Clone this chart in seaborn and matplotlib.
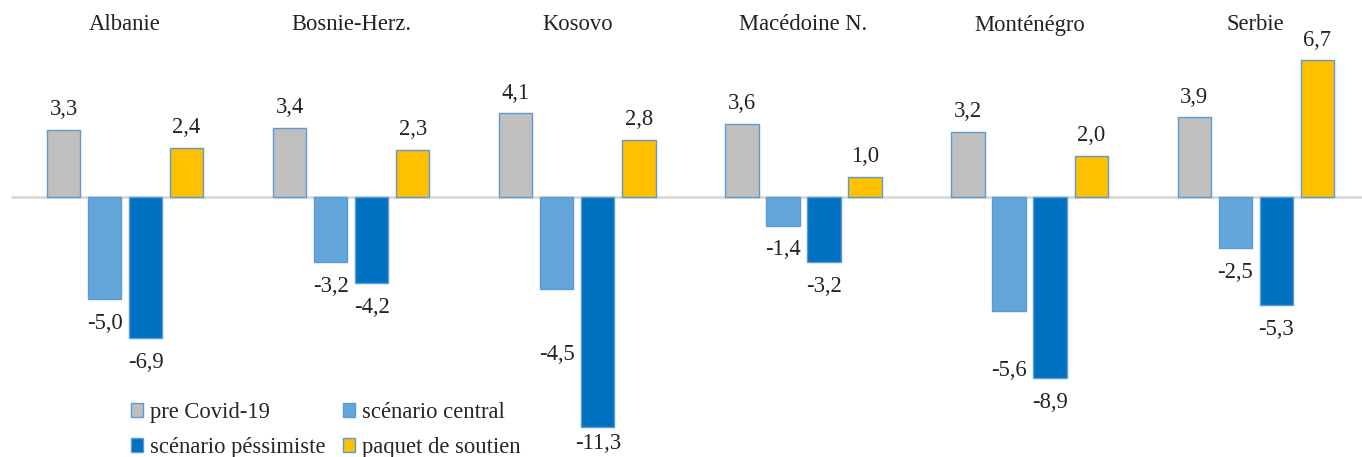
import matplotlib
matplotlib.use("Agg")
import matplotlib.pyplot as plt
import seaborn as sns
import pandas as pd
from matplotlib.patches import Patch

countries = ["Albanie", "Bosnie-Herz.", "Kosovo", "Macédoine N.", "Monténégro", "Serbie"]
series = ["pre Covid-19", "scénario central", "scénario péssimiste", "paquet de soutien"]
pre_covid = [3.3, 3.4, 4.1, 3.6, 3.2, 3.9]
central = [-5.0, -3.2, -4.5, -1.4, -5.6, -2.5]
pessimiste = [-6.9, -4.2, -11.3, -3.2, -8.9, -5.3]
soutien = [2.4, 2.3, 2.8, 1.0, 2.0, 6.7]

colors = ["#BFBFBF", "#64A6DA", "#0070C0", "#FFC000"]
edge = "#5B9BD5"

rows = []
for s, vals in zip(series, [pre_covid, central, pessimiste, soutien]):
    for c, v in zip(countries, vals):
        rows.append({"pays": c, "serie": s, "valeur": v})
df = pd.DataFrame(rows)

sns.set_style("white")
plt.rcParams["font.family"] = ["Liberation Serif", "DejaVu Serif"]

W, H = 1362, 457
fig = plt.figure(figsize=(W / 100, H / 100), dpi=100)
ax = fig.add_axes([0, 0, 1, 1])

sns.barplot(data=df, x="pays", y="valeur", hue="serie", hue_order=series,
            order=countries, palette=colors, width=0.726, gap=0.19,
            edgecolor=edge, linewidth=1, ax=ax, legend=False, errorbar=None,
            saturation=1)

ax.set_xlim(-0.553, 5.47)
ax.set_ylim(-12.75, 9.66)
ax.axhline(0, xmin=12 / W, color="#D9D9D9", lw=2, zorder=0)

fs = 16.3
extra = {(1, 2): 30, (1, 4): 25, (2, 2): -6}
all_vals = [pre_covid, central, pessimiste, soutien]
for i, cont in enumerate(ax.containers):
    vals = all_vals[i]
    labels = [f"{v:.1f}".replace(".", ",") for v in vals]
    anns = ax.bar_label(cont, labels=labels, padding=7, fontsize=fs, color="#222222")
    for j, a in enumerate(anns):
        x0, y0 = a.xyann
        if vals[j] < 0:
            y0 -= 3
        if (i, j) in extra:
            y0 -= extra[(i, j)]
        a.xyann = (x0, y0)

for k, c in enumerate(countries):
    ax.text(k, 1 - 25 / H, c, transform=ax.get_xaxis_transform(),
            ha="center", va="center", fontsize=fs, color="#222222")

ax.set_xticks([])
ax.set_yticks([])
ax.set_xlabel("")
ax.set_ylabel("")
sns.despine(ax=ax, left=True, bottom=True)

handles = [Patch(facecolor=col, edgecolor=edge, lw=1) for col in colors]
order = [0, 2, 1, 3]
ax.legend([handles[i] for i in order], [series[i] for i in order], ncol=2,
          loc="upper left", bbox_to_anchor=(131 / W, 1 - 402 / H), frameon=False,
          fontsize=fs, handlelength=0.55, handleheight=0.55,
          handletextpad=0.3, columnspacing=0.75, labelspacing=0.62,
          borderpad=0, borderaxespad=0)

fig.savefig("out.png", dpi=100)
